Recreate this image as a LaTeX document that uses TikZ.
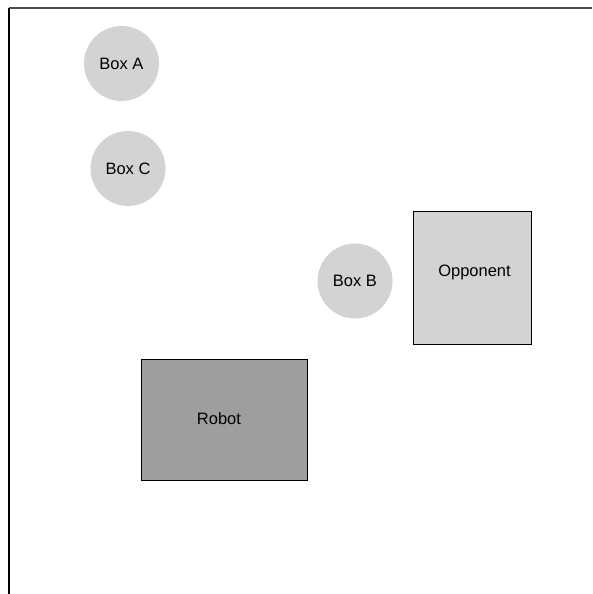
\documentclass[tikz,border=0pt]{standalone}
\usepackage{fontspec}
\setmainfont{Liberation Sans}
\begin{document}
\begin{tikzpicture}[x=1pt,y=-1pt,
  disc/.style={circle,fill=ballgray,draw=none,minimum size=75pt,inner sep=0pt,font=\fontsize{16.5}{20}\selectfont},
  lbl/.style={inner sep=0pt,font=\fontsize{16.5}{20}\selectfont},
  oppbox/.style={rectangle,draw=black,line width=1pt,fill=ballgray,minimum width=118pt,minimum height=133pt,inner sep=0pt},
  robbox/.style={rectangle,draw=black,line width=1pt,fill=robgray,minimum width=166pt,minimum height=121pt,inner sep=0pt}]
\definecolor{ballgray}{HTML}{D3D3D3}
\definecolor{robgray}{HTML}{9E9E9E}
\useasboundingbox (0,0) rectangle (592,594);
\fill[white] (0,0) rectangle (592,594);
\coordinate (tl) at (9,8);
\coordinate (tr) at (592,8);
\coordinate (bl) at (9,594);
\draw[line width=1.3pt,black!70] (tl) -- (tr);
\draw[line width=1.5pt,black] (tl) -- (bl);
\node[disc] (boxa) at (121.5,63.5) {Box A};
\node[disc] (boxc) at (128,168.5) {Box C};
\node[disc] (boxb) at (355,281) {Box B};
\node[oppbox] (opp) at (472,277.5) {};
\node[lbl] (opptext) at (474.5,272) {Opponent};
\node[robbox] (rob) at (224,419.5) {};
\node[lbl] (robtext) at (219,419) {Robot};
\end{tikzpicture}
\end{document}
